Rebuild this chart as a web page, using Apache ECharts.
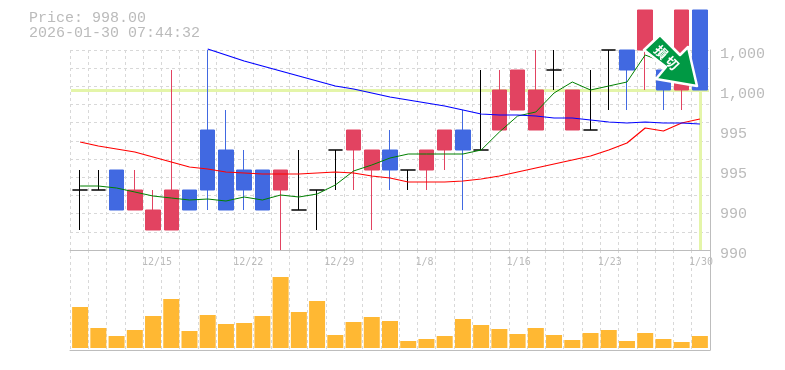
<!DOCTYPE html>
<html><head><meta charset="utf-8">
<style>html,body{margin:0;padding:0;background:#fff}#c{width:785px;height:370px}</style>
<script src="https://cdn.jsdelivr.net/npm/echarts@6/dist/echarts.min.js"></script>
</head><body><div id="c"></div>
<script>
const categories=['12/9','12/10','12/11','12/12','12/15','12/16','12/17','12/18','12/19','12/22','12/23','12/24','12/25','12/26','12/29','12/30','1/5','1/6','1/7','1/8','1/9','1/13','1/14','1/15','1/16','1/19','1/20','1/21','1/22','1/23','1/26','1/27','1/28','1/29','1/30'];
const opens =[993,993,994,992,991,991,993,996,995,994,994,993,992,993,995,995,994,995,994,994,995,996,995,996,997,996,999,996,996,1000,1000,1000,999,998,1002];
const closes=[993,993,992,993,992,993,992,993,992,993,992,994,992,993,995,996,995,994,994,995,996,995,995,998,999,998,999,998,996,1000,999,1002,998,1002,998];
const lows  =[991,993,992,992,991,991,992,992,992,992,992,990,992,991,993,993,991,993,993,993,994,992,995,996,997,996,998,996,996,997,997,998,997,997,998];
const highs =[994,994,994,994,993,999,993,1000,997,995,994,994,995,993,995,996,995,996,994,995,996,997,999,999,999,1000,1000,998,999,1000,1000,1002,999,1002,1002];
const ma5 =[993.2,993.2,993.1,992.9,992.7,992.6,992.5,992.55,992.45,992.65,992.5,992.75,992.65,992.8,993.25,993.95,994.25,994.6,994.8,994.8,994.8,994.8,995,995.9,996.7,996.9,997.85,998.4,998,998.2,998.4,999.75,999.4,999.1];
const ma25=[995.4,995.2,995.05,994.9,994.65,994.4,994.15,994.05,993.9,993.85,993.8,993.8,993.8,993.85,993.9,993.85,993.7,993.6,993.4,993.4,993.4,993.45,993.55,993.7,993.9,994.1,994.3,994.5,994.7,995,995.35,996.1,995.95,996.35,996.55];
const ma75=[null,null,null,null,null,null,null,1000.05,999.75,999.45,999.2,998.95,998.7,998.45,998.2,998.05,997.85,997.65,997.5,997.35,997.2,997,996.8,996.75,996.75,996.7,996.6,996.6,996.5,996.4,996.35,996.4,996.35,996.35,996.3];
const volumes=[4100,2000,1200,1800,3200,4900,1700,3300,2400,2500,3200,7100,3600,4700,1300,2600,3100,2700,700,900,1200,2900,2300,1900,1400,2000,1300,800,1500,1800,700,1500,900,600,1200];
const priceTicks=[990,992,994,996,998,1000];
const priceTickLabels=['990','990','995','995','1,000','1,000'];
const currentPrice=998;
const titleLines=['Price: 998.00','2026-01-30 07:44:32'];
const gridRows=[0,1,2,3,4,5,6,7,8,9,10,11];

const GRAY='#bdbdbd',DASH='#d8d8d8',MONO='"Liberation Mono",monospace';
const candleData=categories.map((c,i)=>[opens[i],closes[i],lows[i],highs[i]]);
const dashed={show:true,interval:0,lineStyle:{color:DASH,type:[3,3],width:1}};
const off={show:false};
const chart=echarts.init(document.getElementById('c'),null,{renderer:'canvas'});
const ln=(name,data,color,w)=>({name,type:'line',data,xAxisIndex:2,yAxisIndex:2,showSymbol:false,symbol:'none',z:4,clip:true,connectNulls:false,lineStyle:{color,width:w},itemStyle:{color}});
chart.setOption({
 animation:false,backgroundColor:'#fff',
 title:{text:titleLines.join('\n'),left:29,top:11,padding:0,textStyle:{fontFamily:MONO,fontSize:15,fontWeight:'normal',color:'#bbbbbb',lineHeight:15}},
 grid:[
  {left:70,right:75,top:50,height:200},
  {left:70,right:75,top:250,height:100},
  {left:71,right:76,top:10,height:240},
  {left:71,right:76,top:250,height:98},
  {left:60,right:87,top:250,height:98}
 ],
 xAxis:[
  {gridIndex:0,type:'category',data:categories,boundaryGap:true,axisLine:{show:true,lineStyle:{color:GRAY}},axisTick:off,axisLabel:off,splitLine:dashed},
  {gridIndex:1,type:'category',data:categories,boundaryGap:true,axisLine:{show:true,lineStyle:{color:GRAY}},axisTick:off,axisLabel:off,splitLine:dashed},
  {gridIndex:2,type:'category',data:categories,boundaryGap:true,axisLine:off,axisTick:off,axisLabel:off,splitLine:off},
  {gridIndex:3,type:'category',data:categories,boundaryGap:true,axisLine:off,axisTick:off,axisLabel:off,splitLine:off},
  {gridIndex:4,type:'category',position:'top',data:categories,boundaryGap:true,axisLine:off,axisTick:off,splitLine:off,
   axisLabel:{show:true,inside:true,align:'left',verticalAlign:'top',margin:7,hideOverlap:false,interval:(i)=>i%5===4,fontFamily:'"DejaVu Sans Mono",monospace',fontSize:10,color:'#bbbbbb'}}
 ],
 yAxis:[
  {gridIndex:0,type:'value',min:0,max:gridRows.length-1,interval:1,position:'right',axisLine:{show:true,lineStyle:{color:GRAY}},axisTick:off,axisLabel:off,splitLine:{show:true,lineStyle:{color:DASH,type:[3,3],width:1}}},
  {gridIndex:1,type:'value',min:0,max:1,position:'right',axisLine:{show:true,lineStyle:{color:GRAY}},axisTick:off,axisLabel:off,splitLine:off},
  {gridIndex:2,type:'value',min:990,max:1002,interval:2,position:'right',axisLine:off,axisTick:off,splitLine:off,
   axisLabel:{show:true,margin:11,fontFamily:MONO,fontSize:15,color:'#bbbbbb',verticalAlign:'top',lineHeight:8,
    formatter:(v)=>{const k=priceTicks.indexOf(v);return k<0?'':priceTickLabels[k];}}},
  {gridIndex:3,type:'value',min:0,max:9800,axisLine:off,axisTick:off,axisLabel:off,splitLine:off},
  {gridIndex:4,type:'value',axisLine:off,axisTick:off,axisLabel:off,splitLine:off}
 ],
 series:[
  {type:'line',xAxisIndex:2,yAxisIndex:2,data:[],z:1,symbol:'none',
   markLine:{silent:true,z:1,symbol:'none',label:off,lineStyle:{color:'#e4f5a9',width:3,type:'solid'},
    data:[{yAxis:currentPrice},[{coord:[categories[34],currentPrice]},{coord:[categories[34],990]}]]}},
  {type:'candlestick',xAxisIndex:2,yAxisIndex:2,data:candleData,barWidth:15,z:3,clip:true,
   itemStyle:{color:'#e24361',color0:'#4169e1',borderColor:'#e24361',borderColor0:'#4169e1',borderColorDoji:'#000',borderWidth:1}},
  ln('MA5',ma5,'#008000',1),
  ln('MA25',ma25,'#ff0000',1.2),
  ln('MA75',ma75,'#0000ff',1.1),
  {type:'bar',xAxisIndex:3,yAxisIndex:3,data:volumes,barWidth:16,itemStyle:{color:'#ffb833'},z:3}
 ],
 graphic:[
  {type:'polygon',z:100,shape:{points:[[660,35],[644,50],[666,67],[656,79],[697,86],[688,47],[680,55]]},
   style:{fill:'#009944',stroke:'#fff',lineWidth:2.5,lineJoin:'round'}},
  {type:'text',z:101,x:661,y:52,rotation:-Math.PI/4,style:{text:'損',fontFamily:'"Noto Sans CJK JP"',fontWeight:'bold',fontSize:13,fill:'#fff',align:'center',verticalAlign:'middle'}},
  {type:'text',z:101,x:672,y:63,rotation:-Math.PI/4,style:{text:'切',fontFamily:'"Noto Sans CJK JP"',fontWeight:'bold',fontSize:13,fill:'#fff',align:'center',verticalAlign:'middle'}}
 ]
});
</script></body></html>
